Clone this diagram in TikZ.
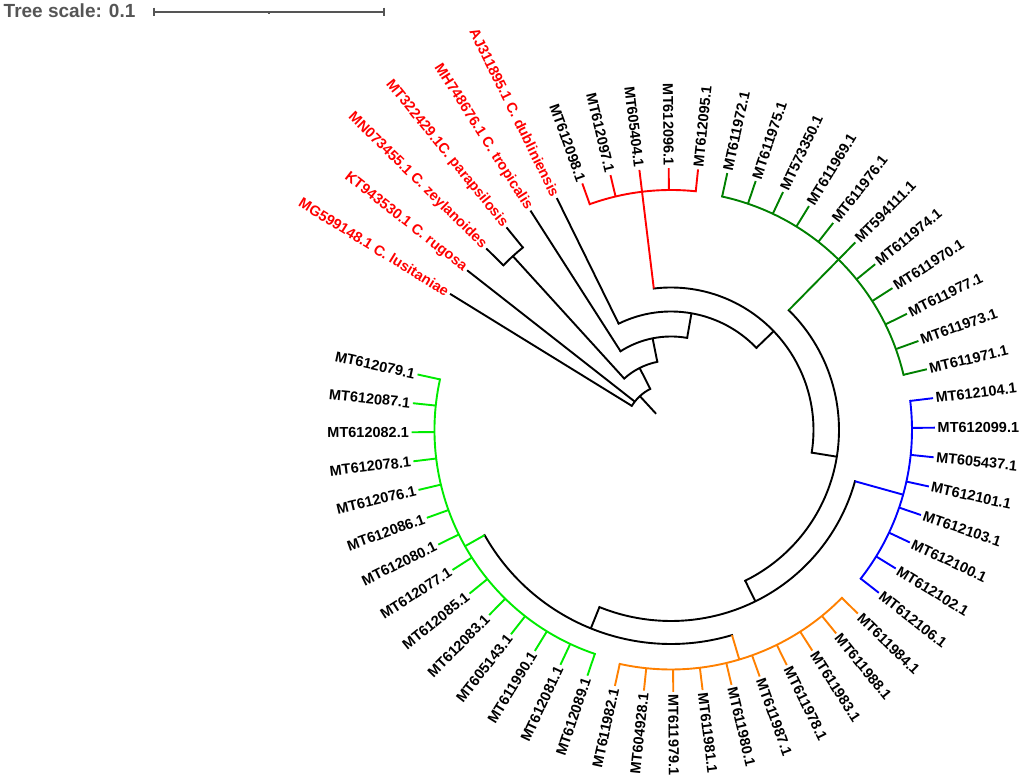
\documentclass[tikz,border=0pt]{standalone}
\usepackage{fontspec}
\setmainfont{Liberation Sans}
\definecolor{cRed}{RGB}{255,0,0}
\definecolor{cGreen}{RGB}{0,128,0}
\definecolor{cBlue}{RGB}{0,0,255}
\definecolor{cOrange}{RGB}{255,128,0}
\definecolor{cLime}{RGB}{0,235,0}
\definecolor{cGray}{RGB}{85,85,85}
% internal node: name, angle, parent radius, radius, arc start, arc end, colour
\newcommand{\inode}[7]{%
  \coordinate (#1b) at (#2:#3pt);
  \coordinate (#1) at (#2:#4pt);
  \draw[branch,#7] (#1b) -- (#1);
  \draw[arcb,#7] (#5:#4pt) arc[start angle=#5, end angle=#6, radius=#4pt];
}
% leaf: name, index, parent radius, tip radius, branch colour, label colour, text
\newcommand{\leafk}[7]{%
  \pgfmathsetmacro\lfang{45*(23-#2)/7+0.5}%
  \pgfmathsetmacro\lfangn{mod(\lfang+720,360)}%
  \pgfmathtruncatemacro\lfflip{(\lfangn>=90)*(\lfangn<270)}%
  \coordinate (#1b) at (\lfang:#3pt);
  \coordinate (#1) at (\lfang:#4pt);
  \draw[branch,#5] (#1b) -- (#1);
  \ifnum\lfflip=1
    \pgfmathsetmacro\lfrot{\lfang-180}%
    \node[lab,text=#6,anchor=east,rotate=\lfrot] (#1t) at (#1) {#7};
  \else
    \node[lab,text=#6,anchor=west,rotate=\lfang] (#1t) at (#1) {#7};
  \fi
}
\begin{document}
\begin{tikzpicture}[x=1pt,y=1pt,
  branch/.style={line width=1.9pt},
  arcb/.style={line width=1.9pt,line cap=rect},
  lab/.style={font=\fontsize{14.5}{17}\selectfont\bfseries, inner sep=0pt, inner xsep=2.5pt},
  sbar/.style={draw=cGray, line width=1.7pt}]
\useasboundingbox (-671,-348) rectangle (350,430);

% tree scale
\node[anchor=base west, inner sep=0pt, font=\fontsize{19}{22}\selectfont\bfseries, text=cGray] (scaletxt) at (-667.5,412.7) {Tree scale: 0.1};
\coordinate (sbL) at (-516.7,418.3);
\coordinate (sbR) at (-287,418.3);
\coordinate (sbM) at (-401.8,418.3);
\draw[sbar] (sbL) -- (sbR);
\draw[sbar] ([yshift=4pt]sbL) -- ([yshift=-4pt]sbL);
\draw[sbar] ([yshift=4pt]sbR) -- ([yshift=-4pt]sbR);
\draw[sbar] (sbM) -- ([yshift=-2.8pt]sbM);

% root
\coordinate (rootin) at (132.587:22pt);
\coordinate (root) at (132.587:46pt);
\draw[branch] (rootin) -- (root);
\draw[arcb] (148.357:46pt) arc[start angle=148.357, end angle=116.817, radius=46pt];

% internal nodes
\inode{nd}{116.817}{46}{69.5}{132.286}{101.348}{black}
\inode{np}{132.286}{69.5}{235}{135.5}{129.071}{black}
\inode{nc}{101.348}{69.5}{93.5}{122.643}{80.054}{black}
\inode{nb}{80.054}{93.5}{118.5}{116.214}{43.893}{black}
\inode{na}{43.893}{118.5}{142.5}{96.929}{-9.143}{black}
\inode{nred}{96.929}{142.5}{240}{109.786}{84.071}{cRed}
\inode{ne}{-9.143}{142.5}{168}{45.5}{-63.786}{black}
\inode{ngreen}{45.5}{168}{239}{77.643}{13.357}{cGreen}
\inode{nf}{-63.786}{168}{191}{-15.571}{-112}{black}
\inode{nblue}{-15.571}{191}{241}{6.929}{-38.071}{cBlue}
\inode{ng}{-112}{191}{214}{-73.429}{-150.571}{black}
\inode{norange}{-73.429}{214}{239.5}{-44.5}{-102.357}{cOrange}
\inode{nlg}{-150.571}{214}{236.5}{-108.786}{-192.357}{cLime}

% reference species
\leafk{L0}{0}{46}{259.5}{black}{cRed}{MG599148.1 C. lusitaniae}
\leafk{L1}{1}{46}{259}{black}{cRed}{KT943530.1 C. rugosa}
\leafk{L2}{2}{235}{259}{black}{cRed}{MN073455.1 C. zeylanoides}
\leafk{L3}{3}{235}{261}{black}{cRed}{MT322429.1C. parapsilosis}
\leafk{L4}{4}{93.5}{260.5}{black}{cRed}{MH748676.1 C. tropicalis}
\leafk{L5}{5}{118.5}{258.5}{black}{cRed}{AJ311895.1 C. dubliniensis}
% red clade
\leafk{L6}{6}{240}{262}{cRed}{black}{MT612098.1}
\leafk{L7}{7}{240}{262}{cRed}{black}{MT612097.1}
\leafk{L8}{8}{240}{262}{cRed}{black}{MT605404.1}
\leafk{L9}{9}{240}{262}{cRed}{black}{MT612096.1}
\leafk{L10}{10}{240}{262}{cRed}{black}{MT612095.1}
% green clade
\leafk{L11}{11}{239}{263}{cGreen}{black}{MT611972.1}
\leafk{L12}{12}{239}{263}{cGreen}{black}{MT611975.1}
\leafk{L13}{13}{239}{263}{cGreen}{black}{MT573350.1}
\leafk{L14}{14}{239}{263}{cGreen}{black}{MT611969.1}
\leafk{L15}{15}{239}{263}{cGreen}{black}{MT611976.1}
\leafk{L16}{16}{239}{263}{cGreen}{black}{MT594111.1}
\leafk{L17}{17}{239}{263}{cGreen}{black}{MT611974.1}
\leafk{L18}{18}{239}{263}{cGreen}{black}{MT611970.1}
\leafk{L19}{19}{239}{263}{cGreen}{black}{MT611977.1}
\leafk{L20}{20}{239}{263}{cGreen}{black}{MT611973.1}
\leafk{L21}{21}{239}{263}{cGreen}{black}{MT611971.1}
% blue clade
\leafk{L22}{22}{241}{264}{cBlue}{black}{MT612104.1}
\leafk{L23}{23}{241}{264}{cBlue}{black}{MT612099.1}
\leafk{L24}{24}{241}{264}{cBlue}{black}{MT605437.1}
\leafk{L25}{25}{241}{264}{cBlue}{black}{MT612101.1}
\leafk{L26}{26}{241}{264}{cBlue}{black}{MT612103.1}
\leafk{L27}{27}{241}{264}{cBlue}{black}{MT612100.1}
\leafk{L28}{28}{241}{264}{cBlue}{black}{MT612102.1}
\leafk{L29}{29}{241}{264}{cBlue}{black}{MT612106.1}
% orange clade
\leafk{L30}{30}{239.5}{262}{cOrange}{black}{MT611984.1}
\leafk{L31}{31}{239.5}{262}{cOrange}{black}{MT611988.1}
\leafk{L32}{32}{239.5}{262}{cOrange}{black}{MT611983.1}
\leafk{L33}{33}{239.5}{262}{cOrange}{black}{MT611978.1}
\leafk{L34}{34}{239.5}{262}{cOrange}{black}{MT611987.1}
\leafk{L35}{35}{239.5}{262}{cOrange}{black}{MT611980.1}
\leafk{L36}{36}{239.5}{262}{cOrange}{black}{MT611981.1}
\leafk{L37}{37}{239.5}{262}{cOrange}{black}{MT611979.1}
\leafk{L38}{38}{239.5}{262}{cOrange}{black}{MT604928.1}
\leafk{L39}{39}{239.5}{262}{cOrange}{black}{MT611982.1}
% light green clade
\leafk{L40}{40}{236.5}{259.5}{cLime}{black}{MT612089.1}
\leafk{L41}{41}{236.5}{259.5}{cLime}{black}{MT612081.1}
\leafk{L42}{42}{236.5}{259.5}{cLime}{black}{MT611990.1}
\leafk{L43}{43}{236.5}{259.5}{cLime}{black}{MT605143.1}
\leafk{L44}{44}{236.5}{259.5}{cLime}{black}{MT612083.1}
\leafk{L45}{45}{236.5}{259.5}{cLime}{black}{MT612085.1}
\leafk{L46}{46}{236.5}{259.5}{cLime}{black}{MT612077.1}
\leafk{L47}{47}{236.5}{259.5}{cLime}{black}{MT612080.1}
\leafk{L48}{48}{236.5}{259.5}{cLime}{black}{MT612086.1}
\leafk{L49}{49}{236.5}{259.5}{cLime}{black}{MT612076.1}
\leafk{L50}{50}{236.5}{259.5}{cLime}{black}{MT612078.1}
\leafk{L51}{51}{236.5}{259.5}{cLime}{black}{MT612082.1}
\leafk{L52}{52}{236.5}{259.5}{cLime}{black}{MT612087.1}
\leafk{L53}{53}{236.5}{259.5}{cLime}{black}{MT612079.1}
\end{tikzpicture}
\end{document}
